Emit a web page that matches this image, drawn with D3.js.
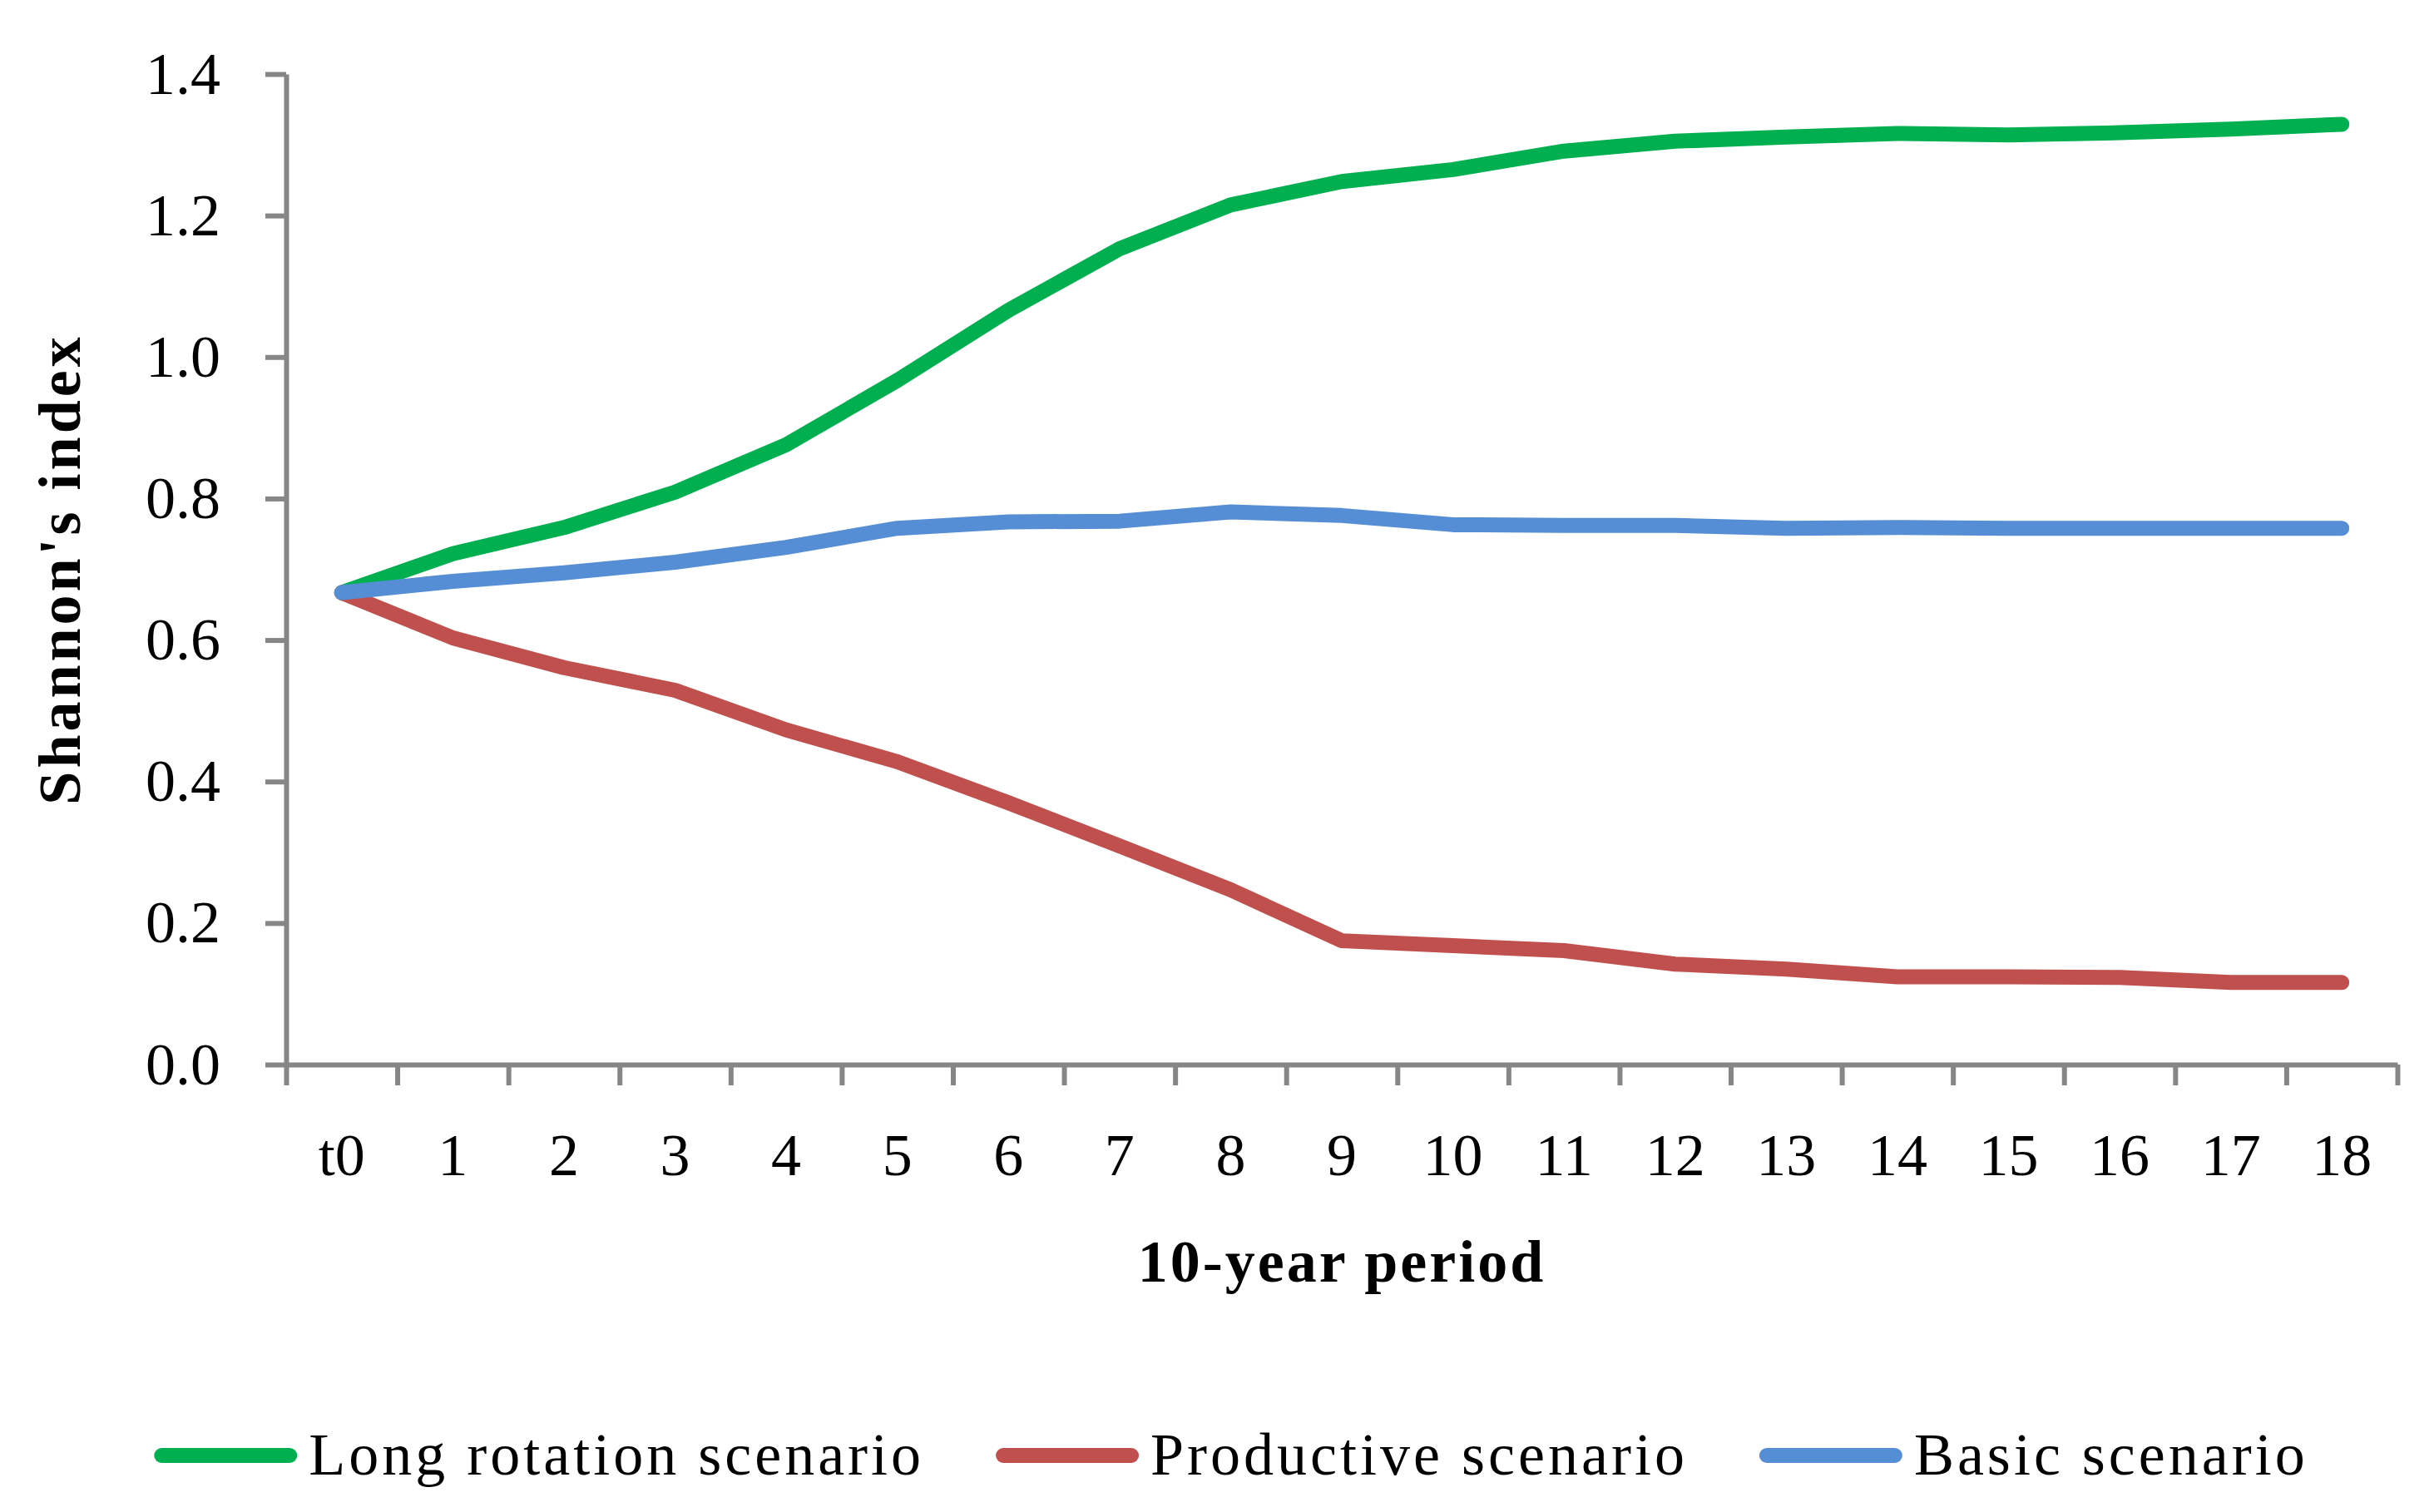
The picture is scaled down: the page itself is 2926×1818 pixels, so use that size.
<!DOCTYPE html>
<html>
<head>
  <meta charset="utf-8">
  <title>Shannon's index</title>
  <style type="text/css">
    body {
      margin: 0;
      background: #ffffff;
    }
    text {
      font-family: "Palatino Linotype", "Book Antiqua", Palatino, "Liberation Serif", serif;
      fill: #000000;
    }
    .axis path, .axis line {
      stroke: #868686;
      stroke-width: 6;
    }
    .series {
      fill: none;
      stroke-width: 18;
      stroke-linejoin: round;
      stroke-linecap: round;
    }
  </style>
</head>
<body>
<script src="https://cdnjs.cloudflare.com/ajax/libs/d3/7.8.5/d3.min.js"></script>
<script>
// data
var periods = ['t0','1','2','3','4','5','6','7','8','9','10','11','12','13','14','15','16','17','18'];

var longRotation = [0.667,0.722,0.759,0.809,0.876,0.967,1.066,1.153,1.215,1.248,1.265,1.291,1.305,1.311,1.316,1.314,1.317,1.322,1.329];
var productive   = [0.667,0.603,0.561,0.529,0.473,0.428,0.370,0.309,0.247,0.175,0.168,0.161,0.142,0.135,0.124,0.124,0.123,0.116,0.116];
var basic        = [0.667,0.683,0.695,0.710,0.731,0.758,0.767,0.768,0.781,0.776,0.763,0.762,0.762,0.758,0.759,0.758,0.758,0.758,0.758];

var seriesNames  = ['Long rotation scenario','Productive scenario','Basic scenario'];
var seriesColors = ['#00af50','#c0504d','#558ed5'];
var yTicks = [0,0.2,0.4,0.6,0.8,1.0,1.2,1.4];

var W = 2926, H = 1818;
// plot box (note: "top" is reserved on window, so use own names)
var plotL = 344, plotR = 2882, plotT = 89, plotB = 1280;

var svg = d3.select('body').append('svg')
  .attr('width', W)
  .attr('height', H);

//scales
var x = d3.scaleBand()
  .domain(periods)
  .range([plotL, plotR])
  .padding(0);

var xEdge = d3.scaleLinear()
  .domain([0, periods.length])
  .range([plotL, plotR]);

var y = d3.scaleLinear()
  .domain([0, 1.4])
  .range([plotB, plotT]);

//y axis
var yAxis = svg.append('g')
  .attr('class', 'axis')
  .attr('transform', 'translate(' + plotL + ',0)')
  .call(d3.axisLeft(y).tickValues(yTicks).tickSize(25).tickSizeOuter(0).tickPadding(54).tickFormat(d3.format('.1f')));
yAxis.selectAll('text')
  .attr('font-size', 72)
  .attr('font-family', null);

//x axis: tick marks between the periods
svg.append('g')
  .attr('class', 'axis')
  .attr('transform', 'translate(0,' + plotB + ')')
  .call(d3.axisBottom(xEdge).tickValues(d3.range(periods.length + 1)).tickSize(25).tickSizeOuter(0).tickFormat(''));

//x axis labels centred in each period
var xAxis = svg.append('g')
  .attr('class', 'axis')
  .attr('transform', 'translate(0,' + plotB + ')')
  .call(d3.axisBottom(x).tickSize(0).tickPadding(0));
xAxis.select('.domain').remove();
xAxis.selectAll('text')
  .attr('y', 133)
  .attr('dy', 0)
  .attr('font-size', 72)
  .attr('font-family', null);

//axis titles
svg.append('text')
  .attr('transform', 'translate(96,' + ((plotT + plotB) / 2) + ') rotate(-90)')
  .attr('text-anchor', 'middle')
  .attr('font-size', 72)
  .attr('font-weight', 'bold')
  .attr('letter-spacing', 4)
  .text("Shannon's index");

svg.append('text')
  .attr('x', (plotL + plotR) / 2)
  .attr('y', 1541)
  .attr('text-anchor', 'middle')
  .attr('font-size', 72)
  .attr('font-weight', 'bold')
  .attr('letter-spacing', 3)
  .text('10-year period');

//lines
var line = d3.line()
  .x(function(d, i){ return x(periods[i]) + x.bandwidth() / 2; })
  .y(function(d){ return y(d); });

var allSeries = [longRotation, productive, basic];

svg.selectAll('path.series')
  .data(allSeries)
  .enter().append('path')
  .attr('class', 'series')
  .attr('stroke', function(d, i){ return seriesColors[i]; })
  .attr('d', line);

//legend
var legend = svg.append('g');
var lx = 0, legY = 1750;
seriesNames.forEach(function(name, i){
  var g = legend.append('g').attr('transform', 'translate(' + lx + ',0)');
  g.append('line')
    .attr('x1', 9).attr('x2', 163)
    .attr('y1', legY).attr('y2', legY)
    .attr('stroke', seriesColors[i])
    .attr('stroke-width', 18)
    .attr('stroke-linecap', 'round');
  var t = g.append('text')
    .attr('x', 186)
    .attr('y', 1773)
    .attr('font-size', 72)
    .attr('letter-spacing', 4)
    .text(name);
  lx += 186 + t.node().getComputedTextLength() + 86;
});
var legW = lx - 86;
legend.attr('transform', 'translate(' + (1480 - legW / 2) + ',0)');
</script>
</body>
</html>
